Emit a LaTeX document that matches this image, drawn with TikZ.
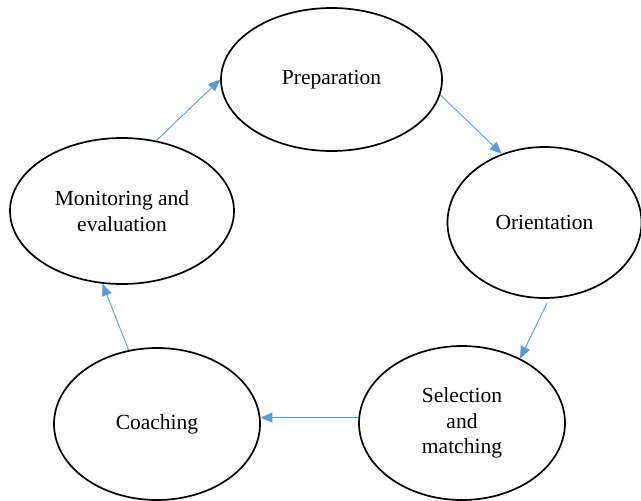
\documentclass[tikz,border=0pt]{standalone}
\usepackage{fontspec}
\setmainfont{Liberation Serif}
\usetikzlibrary{shapes.geometric,arrows.meta}
\definecolor{arrowblue}{HTML}{5B9BD5}
\tikzset{
  stage/.style={draw=black, line width=1.7pt, ellipse, inner sep=0pt, align=center,
    font=\fontsize{21.5}{25.5}\selectfont},
  flow/.style={draw=arrowblue, line width=0.9pt, -{Triangle[length=12pt,width=10pt]}}
}
\begin{document}
\begin{tikzpicture}[x=1pt,y=-1pt]
\useasboundingbox (0,0) rectangle (641,501);
\node[stage, minimum width=221pt, minimum height=143pt] (prep) at (331.5,79.5) {Preparation};
\node[stage, minimum width=194pt, minimum height=151pt] (orie) at (544.5,222.5) {Orientation};
\node[stage, minimum width=206pt, minimum height=154pt] (sel) at (462,423) {Selection\\and\\matching};
\node[stage, minimum width=206pt, minimum height=152pt] (coach) at (157,424) {Coaching};
\node[stage, minimum width=224pt, minimum height=146pt] (mon) at (122,211) {Monitoring and\\evaluation};
\draw[flow] (mon.64) -- (prep.180);
\draw[flow] (prep.-8) -- (orie.122);
\draw[flow] ([yshift=-4pt]orie.-88) -- (sel.48);
\draw[flow] (sel.177) -- (coach.4 |- sel.177);
\draw[flow] (coach.111) -- (mon.255);
\end{tikzpicture}
\end{document}
